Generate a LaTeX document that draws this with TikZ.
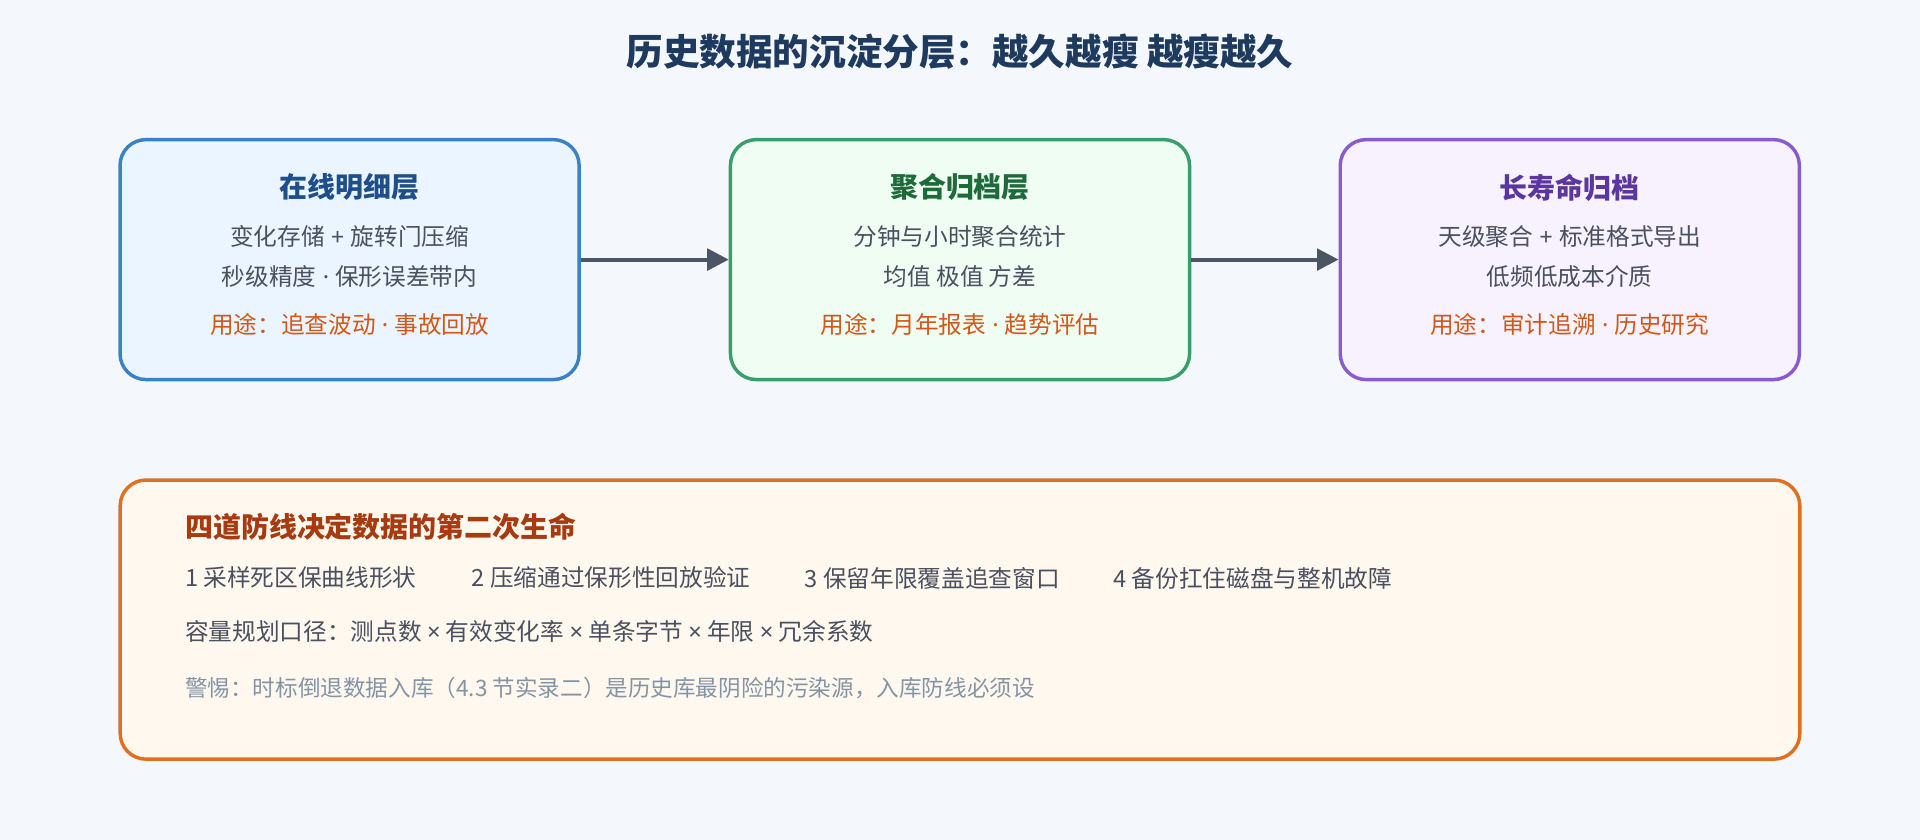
\documentclass[tikz,border=0pt]{standalone}
\usepackage{fontspec}
\setmainfont{Noto Sans CJK SC}
\newfontfamily\latinfont{Noto Sans}
\usetikzlibrary{arrows.meta, positioning}
\definecolor{bgc}{HTML}{F4F8FC}
\definecolor{titlec}{HTML}{1E3A5F}
\definecolor{txtc}{HTML}{4A5060}
\definecolor{usec}{HTML}{D0581A}
\definecolor{warnc}{HTML}{8494A6}
\definecolor{arrc}{HTML}{4B5563}
\definecolor{blueb}{HTML}{3B82C4}\definecolor{bluef}{HTML}{EAF5FF}\definecolor{bluet}{HTML}{1E4E8C}
\definecolor{greenb}{HTML}{3A9E6A}\definecolor{greenf}{HTML}{EFFDF3}\definecolor{greent}{HTML}{1E6B3A}
\definecolor{purpb}{HTML}{8A5BD0}\definecolor{purpf}{HTML}{F8F2FF}\definecolor{purpt}{HTML}{5B35A0}
\definecolor{orab}{HTML}{E07020}\definecolor{oraf}{HTML}{FFF8EE}\definecolor{orat}{HTML}{A83A10}
\newcommand{\sep}{{\latinfont\ ·\ }}
\newcommand{\plus}{{\latinfont\ +\ }}
\tikzset{
  layer/.style={draw=#1b, fill=#1f, line width=1.6pt, rounded corners=12pt, minimum width=7.5cm, minimum height=3.92cm},
  head/.style={font=\bfseries\fontsize{13}{15}\selectfont, text=#1},
  body/.style={font=\fontsize{11}{13}\selectfont, text=txtc},
  use/.style={font=\fontsize{11}{13}\selectfont, text=usec},
  flow/.style={-{Triangle[length=10pt,width=10pt]}, draw=arrc, line width=1.8pt}
}
\begin{document}
\begin{tikzpicture}[x=0.02cm, y=-0.02cm]
  \fill[bgc] (0,0) rectangle (1568,686);
  \node[font=\bfseries\fontsize{17}{20}\selectfont, text=titlec] (title) at (784,42) {历史数据的沉淀分层：越久越瘦 越瘦越久};

  % three layers
  \node[layer=blue] (online) at (285.5,212) {};
  \node[layer=green] (agg) at (784,212) {};
  \node[layer=purp] (long) at (1282,212) {};

  \node[head=bluet] (t1) at (285.5,153) {在线明细层};
  \node[body] (a1) at (285.5,193) {变化存储\plus 旋转门压缩};
  \node[body] (b1) at (285.5,226) {秒级精度\sep 保形误差带内};
  \node[use] (c1) at (285.5,265) {用途：追查波动\sep 事故回放};

  \node[head=greent] (t2) at (784,153) {聚合归档层};
  \node[body] (a2) at (784,193) {分钟与小时聚合统计};
  \node[body] (b2) at (784,226) {均值 极值 方差};
  \node[use] (c2) at (784,265) {用途：月年报表\sep 趋势评估};

  \node[head=purpt] (t3) at (1282,153) {长寿命归档};
  \node[body] (a3) at (1282,193) {天级聚合\plus 标准格式导出};
  \node[body] (b3) at (1282,226) {低频低成本介质};
  \node[use] (c3) at (1282,265) {用途：审计追溯\sep 历史研究};

  \draw[flow] (online) -- (agg);
  \draw[flow] (agg) -- (long);

  % defence lines
  \node[layer=ora, minimum width=27.44cm, minimum height=4.56cm] (guard) at (784,506) {};
  \node[head=orat, anchor=west] (gh) at (145,430) {四道防线决定数据的第二次生命};
  \node[body, anchor=west] (g1) at (145,472) {1 采样死区保曲线形状};
  \node[body, anchor=west] (g2) at (379,472) {2 压缩通过保形性回放验证};
  \node[body, anchor=west] (g3) at (651,472) {3 保留年限覆盖追查窗口};
  \node[body, anchor=west] (g4) at (903,472) {4 备份扛住磁盘与整机故障};
  \node[body, anchor=west] (cap) at (145,516) {容量规划口径：测点数 {\latinfont×} 有效变化率 {\latinfont×} 单条字节 {\latinfont×} 年限 {\latinfont×} 冗余系数};
  \node[font=\fontsize{10.5}{12}\selectfont, text=warnc, anchor=west] (warn) at (145,562) {警惕：时标倒退数据入库（4.3 节实录二）是历史库最阴险的污染源，入库防线必须设};
\end{tikzpicture}
\end{document}
